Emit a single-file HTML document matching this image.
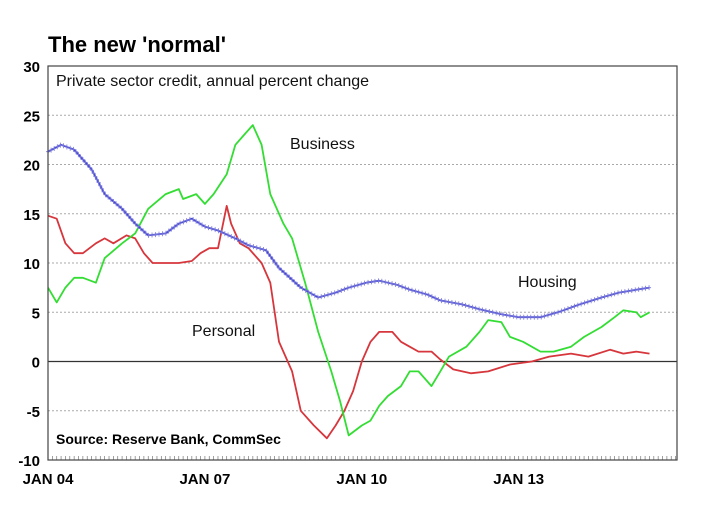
<!DOCTYPE html>
<html><head><meta charset="utf-8"><style>
body{margin:0;background:#fff;}
svg text{font-family:"Liberation Sans",Arial,sans-serif;}
</style></head><body>
<svg id="chart" width="724" height="516" xmlns="http://www.w3.org/2000/svg">
<text x="48" y="52" font-size="22" font-weight="bold" fill="#000">The new 'normal'</text>
<g id="grid"></g><g id="axes"></g><g id="series"></g>
<rect x="48" y="66" width="629" height="394" fill="none" stroke="#444" stroke-width="1.2"/>
<text x="56" y="86" font-size="16" fill="#111">Private sector credit, annual percent change</text>
<text x="56" y="444" font-size="14" font-weight="bold" fill="#000">Source: Reserve Bank, CommSec</text>
<text x="290" y="149" font-size="16" fill="#111">Business</text>
<text x="518" y="287" font-size="16" fill="#111">Housing</text>
<text x="192" y="336" font-size="16" fill="#111">Personal</text>
</svg>
<script>
const yTicks=[30,25,20,15,10,5,0,-5,-10];
const xTickLabels=["JAN 04","JAN 07","JAN 10","JAN 13"];
const xTickMonths=[0,36,72,108];
const housingMonths=[0,3,6,10,13,17,20,23,27,30,33,36,39,43,46,50,53,58,62,66,69,73,76,80,83,87,90,95,99,104,108,113,117,122,127,131,138];
const housingValues=[21.3,22,21.5,19.5,17,15.5,14,12.8,13,14,14.5,13.7,13.3,12.5,11.8,11.3,9.5,7.5,6.5,7,7.5,8,8.2,7.8,7.3,6.8,6.2,5.8,5.3,4.8,4.5,4.5,5,5.8,6.5,7,7.5];
const businessMonths=[0,2,4,6,8,11,13,17,20,23,27,30,31,34,36,38,41,43,45,47,49,51,54,56,59,62,65,67,69,72,74,76,78,81,83,85,88,90,92,96,99,101,104,106,109,113,116,120,123,127,130,132,135,136,138];
const businessValues=[7.5,6,7.5,8.5,8.5,8,10.5,12,13,15.5,17,17.5,16.5,17,16,17,19,22,23,24,22,17,14,12.5,8,3,-1,-4,-7.5,-6.5,-6,-4.5,-3.5,-2.5,-1,-1,-2.5,-1,0.5,1.5,3,4.2,4,2.5,2,1,1,1.5,2.5,3.5,4.5,5.2,5,4.5,5];
const personalMonths=[0,2,4,6,8,11,13,15,18,20,22,24,27,30,33,35,37,39,41,42,44,46,49,51,53,56,58,61,64,66,68,70,72,74,76,79,81,83,85,88,90,93,97,101,106,111,115,120,124,129,132,135,138];
const personalValues=[14.8,14.5,12,11,11,12,12.5,12,12.8,12.5,11,10,10,10,10.2,11,11.5,11.5,15.8,14,12,11.5,10,8,2,-1,-5,-6.5,-7.8,-6.5,-5,-3,0,2,3,3,2,1.5,1,1,0.2,-0.8,-1.2,-1,-0.3,0,0.5,0.8,0.5,1.2,0.8,1,0.8];

const NS="http://www.w3.org/2000/svg";
const L=48,R=677,T=66,B=460;
function xS(m){return L+m*(52.3/12);}
function yS(v){return T+(30-v)*(B-T)/40;}
function mk(tag,attrs,parent){const e=document.createElementNS(NS,tag);for(const k in attrs)e.setAttribute(k,attrs[k]);parent.appendChild(e);return e;}
const grid=document.getElementById('grid'),axes=document.getElementById('axes'),ser=document.getElementById('series');
yTicks.forEach(v=>{
  const y=yS(v);
  if(v!==30&&v!==-10&&v!==0){const g=mk('line',{x1:L,x2:R,y1:y,y2:y,stroke:'#aaa','stroke-dasharray':'2,2','stroke-width':1},grid);
  
  }
  const t=mk('text',{x:40,y:y+6,'text-anchor':'end','font-size':15,'font-weight':'bold',fill:'#000'},axes);
  
  
  t.textContent=v;
});
const z=mk('line',{x1:L,x2:R,y1:yS(0),y2:yS(0),stroke:'#333','stroke-width':1.3},axes);


for(let m=0;m<=144;m++){const x=xS(m);const tk=mk('line',{x1:x,x2:x,y1:B-4,y2:B,stroke:'#777','stroke-width':0.7},axes);

}
xTickLabels.forEach((lab,i)=>{const t=mk('text',{x:xS(xTickMonths[i]),y:484,'text-anchor':'middle','font-size':15,'font-weight':'bold',fill:'#000'},axes);


t.textContent=lab;});
function line(ms,vs,color,name){
  const d=ms.map((m,i)=>(i?'L':'M')+xS(m).toFixed(1)+','+yS(vs[i]).toFixed(1)).join('');
  const p=mk('path',{d:d,fill:'none',stroke:color,'stroke-width':1.8,'stroke-linejoin':'round'},ser);
  
  
  return p;
}
line(personalMonths,personalValues,'#d6363c','personal-line');
line(businessMonths,businessValues,'#33dd33','business-line');
const hp=line(housingMonths,housingValues,'#4444cc','housing-line');
const len=hp.getTotalLength();
for(let s=0;s<len;s+=3.5){const pt=hp.getPointAtLength(s);
  const c=mk('path',{d:`M${pt.x-2},${pt.y}h4M${pt.x},${pt.y-2.5}v5`,stroke:'#7777dd','stroke-width':0.8},ser);
  
  }
</script>
</body></html>
